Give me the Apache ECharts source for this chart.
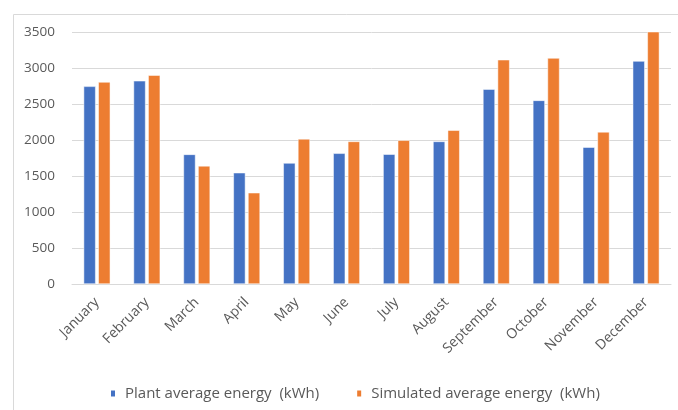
<!DOCTYPE html>
<html><head><meta charset="utf-8">
<script src="https://cdn.jsdelivr.net/npm/echarts@6/dist/echarts.min.js"></script>
<style>html,body{margin:0;padding:0;background:#fff}#c{width:678px;height:410px}</style>
</head><body><div id="c"></div>
<script>
const categories = ['January','February','March','April','May','June','July','August','September','October','November','December'];
const plantEnergy = [2745, 2822, 1800, 1545, 1680, 1815, 1802, 1980, 2706, 2550, 1900, 3096];
const simulatedEnergy = [2805, 2900, 1640, 1267, 2015, 1980, 1996, 2135, 3114, 3138, 2112, 3508];
const seriesNames = ['Plant average energy  (kWh)', 'Simulated average energy  (kWh)'];
const yTicks = {min: 0, max: 3500, interval: 500};

const chart = echarts.init(document.getElementById('c'));
const font = '"Open Sans", sans-serif';
chart.setOption({
  animation: false,
  graphic: [{type:'rect', left: 11, top: 12, shape:{width: 700, height: 420}, style:{fill:'none', stroke:'#d9d9d9', lineWidth:1}, silent:true}],
  grid: {left: 72, right: 7, top: 32, bottom: 126, containLabel: false},
  legend: {
    top: 381, left: 104, itemWidth: 6, itemHeight: 8, itemGap: 36,
    icon: 'rect',
    textStyle: {color:'#595959', fontSize: 15, fontFamily: font, padding:[0,0,0,4]},
    data: seriesNames
  },
  xAxis: {
    type: 'category', data: categories,
    axisLine: {lineStyle:{color:'#d9d9d9'}},
    axisTick: {show:false},
    axisLabel: {rotate: 45, color:'#595959', fontSize: 14, fontFamily: font, margin: 16, interval: 0}
  },
  yAxis: {
    type: 'value', min: yTicks.min, max: yTicks.max, interval: yTicks.interval,
    axisLine: {show:false}, axisTick: {show:false},
    splitLine: {lineStyle:{color:'#d9d9d9'}},
    axisLabel: {color:'#595959', fontSize: 13.5, fontFamily: font, margin: 17, formatter: v => String(v)}
  },
  series: [
    {name: seriesNames[0], type:'bar', data: plantEnergy, barWidth: 12, barGap: '22%',
     itemStyle:{color:'#4472C4', borderColor:'#fff', borderWidth:0.5}},
    {name: seriesNames[1], type:'bar', data: simulatedEnergy, barWidth: 12,
     itemStyle:{color:'#ED7D31', borderColor:'#fff', borderWidth:0.5}}
  ]
});
</script></body></html>
